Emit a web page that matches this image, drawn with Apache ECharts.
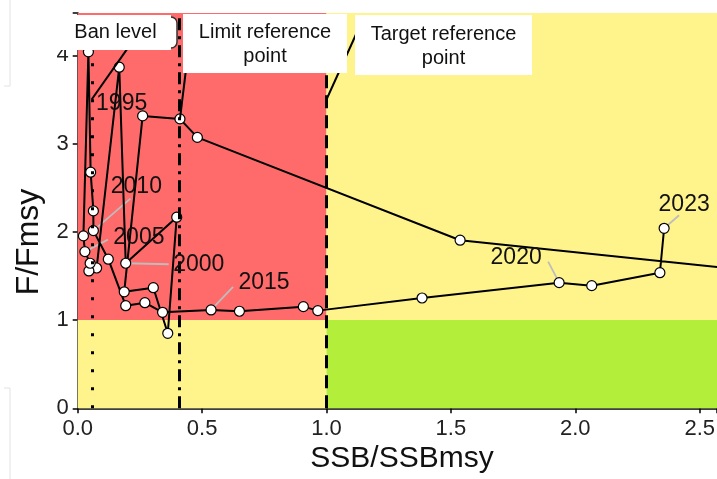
<!DOCTYPE html>
<html><head><meta charset="utf-8">
<script src="https://cdn.jsdelivr.net/npm/echarts@6/dist/echarts.min.js"></script>
<style>html,body{margin:0;padding:0;background:#fff}#c{width:717px;height:479px}</style>
</head><body><div id="c"></div>
<script>
// stock trajectory (SSB/SSBmsy, F/Fmsy) in time order
const years = [1991,1992,1993,1994,1995,1996,1997,1998,1999,2000,2001,2002,2003,2004,2005,2006,2007,2008,2009,2010,2011,2012,2013,2014,2015,2016,2017,2018,2019,2020,2021,2022,2023];
const ssb = [2.95,1.537,0.481,0.411,0.261,0.187,0.304,0.362,0.398,0.193,0.167,0.076,0.045,0.050,0.029,0.023,0.043,0.052,0.063,0.063,0.123,0.193,0.270,0.341,0.536,0.650,0.907,0.965,1.384,1.935,2.066,2.340,2.357];
const ffm = [1.49,1.905,3.07,3.28,3.314,1.32,1.367,0.85,2.166,1.644,3.866,1.59,1.557,1.644,1.776,1.954,4.04,2.676,2.237,2.014,1.69,1.163,1.197,1.088,1.115,1.10,1.152,1.107,1.25,1.424,1.39,1.537,2.04];
const labelYears = [1995,2000,2005,2010,2015,2020,2023];
// reference points
const banLevel = 0.056, limitRef = 0.411, targetRef = 1.0, fLine = 1.0;
const refNames = ['Ban level', 'Limit reference\npoint', 'Target reference\npoint'];
const xTickStep = 0.5, yTickStep = 1;
const xMax = 2.5695, yMax = 4.48;

// label placement (pixel offsets from the labelled point): [textDx, textDy, leaderDx, leaderDy]
const labelPlace = {
  1995:[-21,-12,null,null], 2000:[73,1,43,1], 2005:[54,-14,23,-12], 2010:[43,-44,37,-32],
  2015:[53,-27,22,-23], 2020:[-43,-25,-11,-21], 2023:[20,-24,15,-13]
};
// black leaders from reference-line labels (data coords, start on the line, end under the box)
const refLeaders = [
  [[banLevel,3.5],[0.238,4.23]],
  [[limitRef,3.28],[0.44,3.95]],
  [[targetRef,3.5],[1.127,4.29]]
];

const chart = echarts.init(document.getElementById('c'));
const pts = ssb.map((x,i)=>[x,ffm[i]]);
const red='#FF6A6A', yel='#FFF48C', grn='#B3EE3A';
const FONT='Arial, "Liberation Sans", sans-serif';
const onStep=(v,s)=>Math.abs(v/s-Math.round(v/s))<1e-6;
chart.setOption({
  animation:false,
  grid:{left:77.7,right:0,top:13,bottom:70.7,outerBoundsMode:'none',containLabel:false},
  xAxis:{type:'value',min:0,max:xMax,interval:xTickStep,
    axisLine:{lineStyle:{color:'#000',width:1.5}},axisTick:{length:5,lineStyle:{color:'#000',width:1.5}},
    splitLine:{show:false},
    axisLabel:{color:'#222',fontSize:22,fontFamily:FONT,formatter:v=>onStep(v,xTickStep)?v.toFixed(1):'',margin:10}},
  yAxis:{type:'value',min:0,max:yMax,interval:yTickStep,
    axisLine:{show:true,lineStyle:{color:'#000',width:1.5}},axisTick:{show:true,length:5,lineStyle:{color:'#000',width:1.5}},
    splitLine:{show:false},
    axisLabel:{color:'#222',fontSize:22,fontFamily:FONT,margin:9,formatter:v=>onStep(v,yTickStep)?String(Math.round(v)):''}},
  series:[
    {type:'line',data:[],silent:true,z:1,
      markArea:{silent:true,data:[
        [{coord:[0,fLine],itemStyle:{color:red}},{coord:[targetRef,yMax]}],
        [{coord:[0,0],itemStyle:{color:yel}},{coord:[targetRef,fLine]}],
        [{coord:[targetRef,fLine],itemStyle:{color:yel}},{coord:[xMax,yMax]}],
        [{coord:[targetRef,0],itemStyle:{color:grn}},{coord:[xMax,fLine]}]
      ]},
      markLine:{silent:true,symbol:'none',label:{show:false},data:[
        {xAxis:banLevel,lineStyle:{color:'#000',type:[3,15],width:3,cap:'butt'}},
        {xAxis:limitRef,lineStyle:{color:'#000',type:[12,6,3,6],width:3,cap:'butt'}},
        {xAxis:targetRef,lineStyle:{color:'#000',type:[13,7],width:3,cap:'butt'}}
      ].concat(refLeaders.map(l=>[{coord:l[0],lineStyle:{color:'#000',width:2,type:'solid'}},{coord:l[1]}]))}},
    {type:'line',data:pts,symbol:'circle',symbolSize:10,clip:true,z:3,
      lineStyle:{color:'#000',width:2},itemStyle:{color:'#fff',borderColor:'#000',borderWidth:1.2}}
  ]
});

// annotations
const g = [];
// faint slide edges
g.push({type:'line',shape:{x1:10,y1:0,x2:10,y2:86},style:{stroke:'#e2e2e2',lineWidth:1},z:50});
g.push({type:'line',shape:{x1:4,y1:86,x2:10,y2:86},style:{stroke:'#e2e2e2',lineWidth:1},z:50});
g.push({type:'line',shape:{x1:10,y1:388,x2:10,y2:479},style:{stroke:'#e2e2e2',lineWidth:1},z:50});
g.push({type:'line',shape:{x1:4,y1:388,x2:10,y2:388},style:{stroke:'#e2e2e2',lineWidth:1},z:50});
// axis titles
g.push({type:'text',x:29,y:242,rotation:Math.PI/2,z:50,
  style:{text:'F/Fmsy',font:'32px '+FONT,fill:'#111',textAlign:'center',textVerticalAlign:'middle',align:'center',verticalAlign:'middle'}});
g.push({type:'text',x:402,y:459,z:50,
  style:{text:'SSB/SSBmsy',font:'30px '+FONT,fill:'#111',textAlign:'center',textVerticalAlign:'middle',align:'center',verticalAlign:'middle'}});
// reference-line label boxes
g.push({type:'rect',shape:{x:100,y:17,width:77,height:31,r:6},style:{fill:'#fff',stroke:'#333',lineWidth:1.5},z:99});
const boxes = [[60,15,111,35],[183,14,164,59],[355,15,177,60]];
boxes.forEach((b,i)=>{
  g.push({type:'rect',shape:{x:b[0],y:b[1],width:b[2],height:b[3]},style:{fill:'#fff'},z:100});
  g.push({type:'text',x:b[0]+b[2]/2,y:b[1]+b[3]/2+(i===0?0:1),z:101,
    style:{text:refNames[i],font:'20px '+FONT,fill:'#111',lineHeight:24,textAlign:'center',textVerticalAlign:'middle',align:'center',verticalAlign:'middle'}});
});
// year labels
labelYears.forEach(y=>{
  const i = years.indexOf(y);
  const p = chart.convertToPixel({seriesIndex:1},[ssb[i],ffm[i]]);
  const o = labelPlace[y];
  if(o[2]!==null){
    g.push({type:'line',shape:{x1:p[0],y1:p[1],x2:p[0]+o[2],y2:p[1]+o[3]},style:{stroke:'#bdbdbd',lineWidth:1.8},z:2});
  }
  g.push({type:'text',x:p[0]+o[0],y:p[1]+o[1],z:60,
    style:{text:String(y),font:'23px '+FONT,fill:'#111',textAlign:'center',textVerticalAlign:'middle',align:'center',verticalAlign:'middle'}});
});
chart.setOption({graphic:{elements:g}});
</script></body></html>
